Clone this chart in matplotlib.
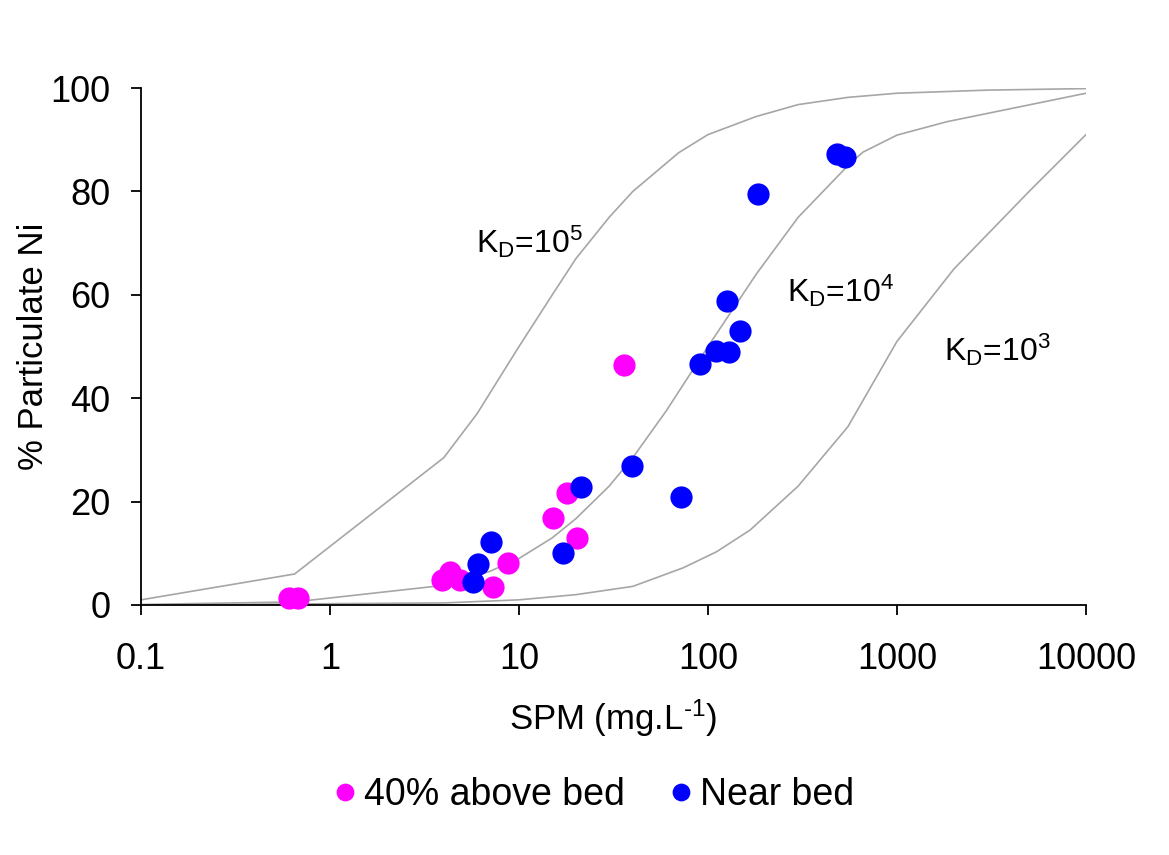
import numpy as np
import matplotlib
matplotlib.use("Agg")
import matplotlib.pyplot as plt

plt.rcParams['font.family'] = ['Liberation Sans', 'DejaVu Sans']
plt.rcParams['mathtext.fontset'] = 'custom'
plt.rcParams['mathtext.rm'] = 'Liberation Sans'
plt.rcParams['mathtext.default'] = 'regular'

#measured data
above_spm = [0.61, 0.68, 3.9, 4.3, 4.9, 7.3, 8.7, 15.2, 17.9, 20.2, 36]
above_pct = [1.3, 1.3, 4.8, 6.4, 4.8, 3.5, 8.2, 16.9, 21.6, 13.0, 46.4]

near_spm = [5.7, 6.1, 7.1, 17.0, 21.2, 39.6, 71.8, 90.7, 110, 129.6, 125.6, 147.6, 185, 480, 531]
near_pct = [4.5, 7.9, 12.1, 10.0, 22.8, 26.9, 20.8, 46.7, 49.1, 49.0, 58.9, 53.0, 79.6, 87.2, 86.7]

#KD curves
kd5_spm = [0.1, 0.65, 4, 6, 10, 15, 20, 30, 40, 70, 100, 180, 300, 550, 1000, 3000, 10000]
kd5_pct = [1.0, 6.0, 28.5, 37, 50, 60, 67, 75, 80, 87.5, 91, 94.5, 96.8, 98.2, 99.0, 99.6, 99.9]

kd4_spm = [0.1, 0.65, 4, 7, 10, 15, 20, 30, 40, 60, 100, 180, 300, 550, 660, 1000, 1840, 4100, 10000]
kd4_pct = [0.1, 0.6, 3.8, 6.5, 9, 13, 16.7, 23, 28.5, 37.5, 50, 64, 75, 85, 87.6, 90.9, 93.5, 96.1, 99.0]

kd3_spm = [0.1, 4, 10, 20, 40, 74, 111, 167, 300, 550, 1000, 2000, 5000, 10000]
kd3_pct = [0.0, 0.4, 1.0, 2.0, 3.6, 7.2, 10.3, 14.5, 23, 34.5, 51, 65, 80, 91]

kd_labels = [r'K$_{D}$=10$^{5}$', r'K$_{D}$=10$^{4}$', r'K$_{D}$=10$^{3}$']
kd_label_pos = [(11.4, 70.2), (500, 60.7), (3380, 49.3)]

fig = plt.figure(figsize=(11.69, 8.55), dpi=100)
ax = fig.add_axes([0.1206, 0.2924, 0.8084, 0.6046])

for xs, ys in [(kd5_spm, kd5_pct), (kd4_spm, kd4_pct), (kd3_spm, kd3_pct)]:
    ax.plot(xs, ys, color='#a6a6a6', lw=1.2, zorder=1)

ax.plot(above_spm, above_pct, 'o', color='#ff00ff', ms=16, mec='none', clip_on=False, zorder=3, label='40% above bed')
ax.plot(near_spm, near_pct, 'o', color='#0000ff', ms=16, mec='none', clip_on=False, zorder=4, label='Near bed')

for txt, (x, y) in zip(kd_labels, kd_label_pos):
    ax.text(x, y, txt, fontsize=23, ha='center', va='center')

ax.set_xscale('log')
ax.set_xlim(0.1, 10000)
ax.set_ylim(0, 100)
ax.set_xticks([0.1, 1, 10, 100, 1000, 10000])
ax.set_xticklabels(['0.1', '1', '10', '100', '1000', '10000'])
ax.xaxis.set_minor_locator(matplotlib.ticker.NullLocator())
ax.set_yticks([0, 20, 40, 60, 80, 100])

ax.spines['top'].set_visible(False)
ax.spines['right'].set_visible(False)
ax.spines['left'].set_linewidth(1.3)
ax.spines['bottom'].set_linewidth(1.3)
ax.tick_params(axis='both', direction='out', length=7, width=1.3, labelsize=26)
ax.tick_params(axis='y', pad=15)
ax.tick_params(axis='x', pad=20)

ax.set_xlabel(r'SPM (mg.L$^{\text{-1}}$)', fontsize=25)
ax.set_ylabel('% Particulate Ni', fontsize=25)
ax.xaxis.set_label_coords(0.5, -0.178)
ax.yaxis.set_label_coords(-0.096, 0.5)

fig.legend(loc='center', bbox_to_anchor=(0.505, 0.07), ncol=2, frameon=False, fontsize=27,
           markerscale=0.8, handletextpad=0.0, handlelength=1.0, columnspacing=1.0)

plt.savefig("out.png", dpi=100)
plt.close()
